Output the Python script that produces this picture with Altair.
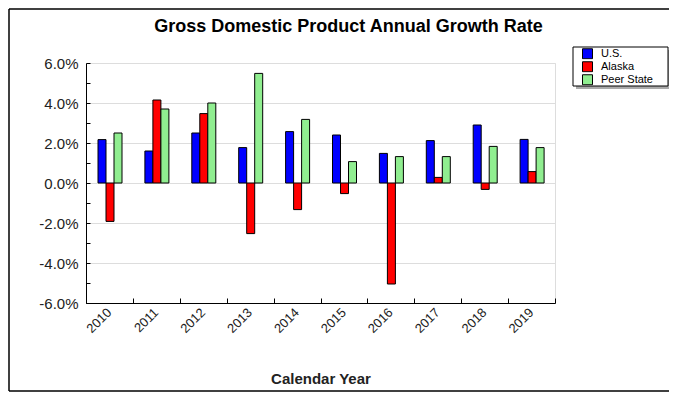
import altair as alt
import pandas as pd

years = ["2010", "2011", "2012", "2013", "2014", "2015", "2016", "2017", "2018", "2019"]
series = ["U.S.", "Alaska", "Peer State"]
us = [2.17, 1.60, 2.50, 1.77, 2.57, 2.40, 1.48, 2.12, 2.90, 2.18]
alaska = [-1.92, 4.15, 3.47, -2.53, -1.33, -0.53, -5.05, 0.28, -0.32, 0.57]
peer = [2.50, 3.70, 4.00, 5.48, 3.18, 1.07, 1.32, 1.32, 1.83, 1.77]
colors = ["#0000FF", "#FF0000", "#90EE90"]

rows = []
for name, vals in zip(series, [us, alaska, peer]):
    for yr, v in zip(years, vals):
        rows.append({"year": yr, "series": name, "value": v / 100.0})
df = pd.DataFrame(rows)

FONT = "Liberation Sans"
W, H = 469, 240

xscale = alt.Scale(domain=years, paddingInner=0, paddingOuter=0)
yscale = alt.Scale(domain=[-0.06, 0.06], nice=False)
offscale = alt.Scale(domain=series, range=[12, 36], paddingInner=0, paddingOuter=0)
cscale = alt.Scale(domain=series, range=colors)

base = alt.Chart(df)

bars = base.mark_bar(stroke="black", strokeWidth=1, clip=False).encode(
    x=alt.X("year:N", scale=xscale, sort=years,
            axis=alt.Axis(title="Calendar Year", orient="bottom", labelAngle=315,
                          labelAlign="right", labelBaseline="middle",
                          labelFontSize=13, labelColor="#222", labelFont=FONT,
                          titleFont=FONT, titleFontSize=15, titleFontWeight="bold",
                          titleColor="#222", titlePadding=36, ticks=False,
                          domainColor="black", domainWidth=1, labelPadding=7,
                          grid=False)),
    xOffset=alt.XOffset("series:N", scale=offscale, sort=series),
    y=alt.Y("value:Q", scale=yscale,
            axis=alt.Axis(title=None, orient="left", format=".1%",
                          labelExpr="replace(datum.label, '\u2212', '-')",
                          values=[-0.06, -0.04, -0.02, 0, 0.02, 0.04, 0.06],
                          labelFontSize=15, labelColor="#222", labelFont=FONT,
                          ticks=False, labelPadding=8, domainColor="black",
                          grid=True, gridColor="#dddddd", gridWidth=1)),
    color=alt.Color("series:N", scale=cscale, sort=series,
                    legend=alt.Legend(title=None, orient="none", legendX=496, legendY=-15,
                                      symbolType="square", symbolSize=100,
                                      symbolStrokeColor="black", symbolStrokeWidth=1,
                                      symbolOpacity=1, clipHeight=11.5,
                                      labelFont=FONT, labelFontSize=11, labelColor="black",
                                      rowPadding=0, labelOffset=8, padding=0, zindex=2)),
)

inner_ticks = base.mark_bar(opacity=0).encode(
    x=alt.X("year:N", scale=xscale, sort=years,
            axis=alt.Axis(title=None, orient="top", offset=-H, labels=False, domain=False,
                          ticks=True, tickSize=5, tickColor="black", tickBand="extent",
                          grid=False)),
    xOffset=alt.XOffset("series:N", scale=offscale, sort=series),
    y=alt.Y("value:Q", scale=yscale,
            axis=alt.Axis(title=None, orient="right", offset=-W, labels=False, domain=False,
                          ticks=True, tickSize=4, tickColor="black",
                          values=[-0.06, -0.05, -0.04, -0.03, -0.02, -0.01, 0, 0.01,
                                  0.02, 0.03, 0.04, 0.05, 0.06],
                          grid=False)),
)

one = pd.DataFrame({"a": [0]})
border_top = alt.Chart(one).mark_rule(color="black", strokeWidth=1.5, clip=False).encode(
    x=alt.value(-77), x2=alt.value(583), y=alt.value(-54))
border_left = alt.Chart(one).mark_rule(color="black", strokeWidth=1.5, clip=False).encode(
    x=alt.value(-77), y=alt.value(-54), y2=alt.value(328))
border_bottom = alt.Chart(one).mark_rule(color="black", strokeWidth=1.5, clip=False).encode(
    x=alt.value(-77), x2=alt.value(583), y=alt.value(328))

shadow = alt.Chart(one).mark_rect(fill="#aaaaaa", clip=False).encode(
    x=alt.value(490), x2=alt.value(585), y=alt.value(-13), y2=alt.value(26))

box = alt.Chart(one).mark_rect(fill="white", stroke="black", strokeWidth=1, clip=False).encode(
    x=alt.value(487), x2=alt.value(582), y=alt.value(-16), y2=alt.value(23))

chart = alt.layer(border_top, border_left, border_bottom, shadow, box, bars, inner_ticks).resolve_axis(
    x="independent", y="independent"
).properties(
    width=W, height=H,
    title=alt.TitleParams("Gross Domestic Product Annual Growth Rate", font=FONT,
                          fontSize=18, fontWeight="bold", color="black",
                          anchor="middle", frame="group", dx=28, offset=-28),
    autosize=alt.AutoSizeParams(type="none"),
    padding={"left": 78, "top": 55, "right": 114, "bottom": 89},
).configure_view(stroke=None).configure(background="white")

chart.save("out.html", embed_options={"renderer": "svg", "actions": False})
